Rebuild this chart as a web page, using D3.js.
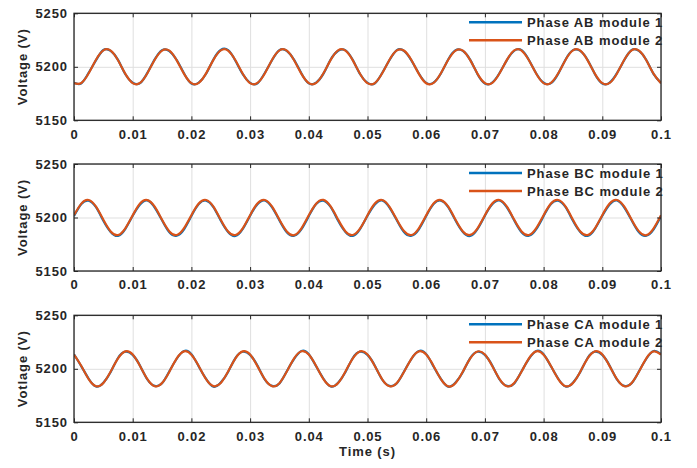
<!DOCTYPE html>
<html>
<head>
<meta charset="utf-8">
<script src="https://cdn.jsdelivr.net/npm/d3@7"></script>
<style>
  html, body { margin: 0; padding: 0; background: #ffffff; }
  svg { display: block; }
  text { font-family: "Liberation Sans", Arial, Helvetica, sans-serif; font-weight: bold; fill: #262626; }
</style>
</head>
<body>
<svg id="chart" width="697" height="468"></svg>
<script>
// ---------- data ----------
const time = [
  0, 0.00125, 0.0025, 0.00375, 0.005, 0.00625, 0.0075, 0.00875,
  0.01, 0.01125, 0.0125, 0.01375, 0.015, 0.01625, 0.0175, 0.01875,
  0.02, 0.02125, 0.0225, 0.02375, 0.025, 0.02625, 0.0275, 0.02875,
  0.03, 0.03125, 0.0325, 0.03375, 0.035, 0.03625, 0.0375, 0.03875,
  0.04, 0.04125, 0.0425, 0.04375, 0.045, 0.04625, 0.0475, 0.04875,
  0.05, 0.05125, 0.0525, 0.05375, 0.055, 0.05625, 0.0575, 0.05875,
  0.06, 0.06125, 0.0625, 0.06375, 0.065, 0.06625, 0.0675, 0.06875,
  0.07, 0.07125, 0.0725, 0.07375, 0.075, 0.07625, 0.0775, 0.07875,
  0.08, 0.08125, 0.0825, 0.08375, 0.085, 0.08625, 0.0875, 0.08875,
  0.09, 0.09125, 0.0925, 0.09375, 0.095, 0.09625, 0.0975, 0.09875,
  0.1
];

const abModule1 = [
  5185.0, 5184.6, 5194.4, 5206.2, 5215.7, 5214.8, 5206.5, 5193.0,
  5185.1, 5184.7, 5194.3, 5206.9, 5215.6, 5214.7, 5206.4, 5193.8,
  5184.4, 5185.3, 5193.5, 5206.9, 5215.7, 5215.5, 5205.7, 5193.1,
  5185.0, 5184.6, 5194.2, 5206.3, 5215.6, 5214.8, 5206.5, 5193.8,
  5184.5, 5185.2, 5193.6, 5207.0, 5215.0, 5215.4, 5206.3, 5193.0,
  5185.0, 5184.5, 5194.2, 5206.3, 5215.6, 5214.7, 5205.8, 5193.7,
  5184.9, 5185.2, 5193.7, 5206.9, 5215.5, 5214.8, 5206.5, 5193.1,
  5184.4, 5185.2, 5194.2, 5206.2, 5215.0, 5215.5, 5206.4, 5193.8,
  5185.1, 5184.7, 5193.6, 5206.9, 5215.6, 5214.8, 5206.3, 5193.1,
  5184.4, 5185.2, 5194.1, 5206.3, 5215.7, 5214.8, 5206.4, 5193.1,
  5185.0
];
const abModule2 = [
  5184.7, 5184.9, 5193.9, 5206.6, 5215.3, 5215.1, 5206.1, 5193.4,
  5184.8, 5184.9, 5194.0, 5206.6, 5215.2, 5215.1, 5206.0, 5193.4,
  5184.7, 5185.0, 5193.9, 5206.5, 5215.3, 5215.2, 5206.1, 5193.5,
  5184.7, 5184.9, 5193.8, 5206.6, 5215.3, 5215.1, 5206.1, 5193.4,
  5184.8, 5184.9, 5193.9, 5206.7, 5215.4, 5215.1, 5206.0, 5193.3,
  5184.7, 5184.8, 5193.9, 5206.6, 5215.3, 5215.0, 5206.1, 5193.4,
  5184.6, 5184.9, 5194.0, 5206.6, 5215.2, 5215.1, 5206.2, 5193.4,
  5184.7, 5184.9, 5193.9, 5206.5, 5215.3, 5215.2, 5206.1, 5193.5,
  5184.8, 5185.0, 5193.9, 5206.6, 5215.3, 5215.1, 5206.0, 5193.4,
  5184.7, 5184.9, 5193.8, 5206.6, 5215.4, 5215.1, 5206.1, 5193.4,
  5184.7
];

const bcModule1 = [
  5201.3, 5212.6, 5215.7, 5209.6, 5197.0, 5186.5, 5182.8, 5189.4,
  5201.6, 5212.2, 5216.0, 5209.3, 5197.4, 5186.1, 5183.0, 5189.0,
  5201.4, 5212.5, 5215.8, 5209.7, 5197.1, 5186.4, 5182.7, 5189.3,
  5201.7, 5212.3, 5215.9, 5209.4, 5197.3, 5186.2, 5182.9, 5189.1,
  5201.3, 5212.6, 5215.7, 5209.6, 5197.0, 5186.5, 5182.8, 5189.4,
  5201.6, 5212.2, 5216.0, 5209.3, 5197.4, 5186.1, 5183.0, 5189.0,
  5201.4, 5212.5, 5215.8, 5209.7, 5197.1, 5186.4, 5182.7, 5189.3,
  5201.7, 5212.3, 5215.9, 5209.4, 5197.3, 5186.2, 5182.9, 5189.1,
  5201.3, 5212.6, 5215.7, 5209.6, 5197.0, 5186.5, 5182.8, 5189.4,
  5201.6, 5212.2, 5216.0, 5209.3, 5197.4, 5186.1, 5183.0, 5189.0,
  5201.4
];
const bcModule2 = [
  5202.1, 5213.0, 5216.4, 5210.1, 5197.9, 5187.0, 5183.6, 5189.9,
  5202.0, 5213.1, 5216.3, 5210.1, 5197.8, 5187.0, 5183.6, 5190.0,
  5202.1, 5213.0, 5216.4, 5210.2, 5197.9, 5186.9, 5183.6, 5189.9,
  5202.2, 5213.0, 5216.4, 5210.1, 5197.9, 5187.0, 5183.5, 5189.9,
  5202.1, 5212.9, 5216.5, 5210.1, 5198.0, 5187.0, 5183.6, 5189.8,
  5202.1, 5213.0, 5216.4, 5210.0, 5197.9, 5187.1, 5183.6, 5189.9,
  5202.0, 5213.0, 5216.3, 5210.1, 5197.9, 5187.0, 5183.7, 5189.9,
  5202.1, 5213.1, 5216.4, 5210.1, 5197.8, 5187.0, 5183.6, 5190.0,
  5202.1, 5213.0, 5216.4, 5210.2, 5197.9, 5186.9, 5183.6, 5189.9,
  5202.2, 5213.0, 5216.4, 5210.1, 5197.9, 5187.0, 5183.5, 5189.9,
  5202.1
];

const caModule1 = [
  5213.6, 5202.3, 5190.7, 5183.4, 5187.0, 5197.0, 5210.1, 5216.0,
  5213.0, 5202.9, 5190.0, 5184.0, 5186.4, 5197.7, 5209.4, 5216.6,
  5213.7, 5202.2, 5190.6, 5183.3, 5187.1, 5197.1, 5210.0, 5215.9,
  5213.0, 5203.0, 5190.0, 5184.0, 5186.3, 5197.8, 5209.3, 5216.7,
  5213.6, 5202.3, 5190.7, 5183.4, 5187.0, 5197.0, 5210.1, 5216.0,
  5213.0, 5202.9, 5190.0, 5184.0, 5186.4, 5197.7, 5209.4, 5216.6,
  5213.7, 5202.2, 5190.6, 5183.3, 5187.1, 5197.1, 5210.0, 5215.9,
  5213.0, 5203.0, 5190.0, 5184.0, 5186.3, 5197.8, 5209.3, 5216.7,
  5213.6, 5202.3, 5190.7, 5183.4, 5187.0, 5197.0, 5210.1, 5216.0,
  5213.0, 5202.9, 5190.0, 5184.0, 5186.4, 5197.7, 5209.4, 5216.6,
  5213.6
];
const caModule2 = [
  5213.3, 5202.6, 5190.3, 5183.7, 5186.7, 5197.4, 5209.7, 5216.3,
  5213.3, 5202.6, 5190.4, 5183.7, 5186.7, 5197.3, 5209.7, 5216.3,
  5213.2, 5202.6, 5190.3, 5183.8, 5186.7, 5197.4, 5209.8, 5216.3,
  5213.3, 5202.5, 5190.3, 5183.7, 5186.6, 5197.4, 5209.7, 5216.4,
  5213.3, 5202.6, 5190.3, 5183.7, 5186.7, 5197.5, 5209.7, 5216.3,
  5213.4, 5202.6, 5190.2, 5183.7, 5186.7, 5197.4, 5209.6, 5216.3,
  5213.3, 5202.7, 5190.3, 5183.6, 5186.7, 5197.4, 5209.7, 5216.2,
  5213.3, 5202.6, 5190.3, 5183.7, 5186.8, 5197.4, 5209.7, 5216.3,
  5213.2, 5202.6, 5190.4, 5183.7, 5186.7, 5197.3, 5209.7, 5216.3,
  5213.3, 5202.5, 5190.3, 5183.7, 5186.7, 5197.4, 5209.8, 5216.3,
  5213.3
];

const xTickValues = [0, 0.01, 0.02, 0.03, 0.04, 0.05, 0.06, 0.07, 0.08, 0.09, 0.1];
const xTickLabels = ["0", "0.01", "0.02", "0.03", "0.04", "0.05", "0.06", "0.07", "0.08", "0.09", "0.1"];
const yTickValues = [5150, 5200, 5250];
const yTickLabels = ["5150", "5200", "5250"];
const yLabels = ["Voltage (V)", "Voltage (V)", "Votlage (V)"];
const xLabel = "Time (s)";
const seriesNames = [
  ["Phase AB module 1", "Phase AB module 2"],
  ["Phase BC module 1", "Phase BC module 2"],
  ["Phase CA module 1", "Phase CA module 2"]
];
const panelData = [
  [abModule1, abModule2],
  [bcModule1, bcModule2],
  [caModule1, caModule2]
];
const colors = ["#0072BD", "#D95319"];

// ---------- layout ----------
const svg = d3.select("#chart");
const left = 74, right = 661;
const panelTops = [13.3, 164, 315.3];
const panelH = 107;
const W = right - left;

const x = d3.scaleLinear().domain([0, 0.1]).range([0, W]);
const y = d3.scaleLinear().domain([5150, 5250]).range([panelH, 0]);

const line = d3.line()
  .x((d, i) => x(time[i]))
  .y(d => y(d))
  .curve(d3.curveNatural);

const fontSize = "13px";
const ls = "0.9px";

panelData.forEach((series, p) => {
  const g = svg.append("g").attr("transform", `translate(${left},${panelTops[p]})`);

  const clipId = "clip" + p;
  g.append("clipPath").attr("id", clipId)
    .append("rect").attr("x", 0).attr("y", 0).attr("width", W).attr("height", panelH);

  // grid
  const gx = g.append("g")
    .attr("transform", `translate(0,${panelH})`)
    .call(d3.axisBottom(x).tickValues(xTickValues).tickSize(-panelH).tickFormat(""));
  const gy = g.append("g")
    .call(d3.axisLeft(y).tickValues(yTickValues).tickSize(-W).tickFormat(""));
  [gx, gy].forEach(gg => {
    gg.select(".domain").remove();
    gg.selectAll("line").attr("stroke", "#dfdfdf").attr("stroke-width", 1);
  });

  // series
  const lg = g.append("g").attr("clip-path", `url(#${clipId})`);
  series.forEach((vals, s) => {
    lg.append("path")
      .datum(vals)
      .attr("d", line)
      .attr("fill", "none")
      .attr("stroke", colors[s])
      .attr("stroke-width", 2.2);
  });

  // axes with inward ticks
  const ax = g.append("g").attr("transform", `translate(0,${panelH})`)
    .call(d3.axisBottom(x).tickValues(xTickValues).tickSize(-4).tickPadding(9)
      .tickFormat((d, i) => xTickLabels[i]));
  const ay = g.append("g")
    .call(d3.axisLeft(y).tickValues(yTickValues).tickSize(-4).tickPadding(6)
      .tickFormat((d, i) => yTickLabels[i]));
  const at = g.append("g")
    .call(d3.axisTop(x).tickValues(xTickValues).tickSize(-4).tickFormat(""));
  const ar = g.append("g").attr("transform", `translate(${W},0)`)
    .call(d3.axisRight(y).tickValues(yTickValues).tickSize(-4).tickFormat(""));
  [ax, ay, at, ar].forEach(a => {
    a.select(".domain").remove();
    a.selectAll("line").attr("stroke", "#262626").attr("stroke-width", 1);
    a.selectAll("text")
      .style("font-family", '"Liberation Sans", Arial, sans-serif')
      .style("font-weight", "bold")
      .style("font-size", fontSize)
      .style("letter-spacing", ls)
      .attr("fill", "#262626");
  });

  // box
  g.append("rect")
    .attr("x", 0).attr("y", 0).attr("width", W).attr("height", panelH)
    .attr("fill", "none").attr("stroke", "#262626").attr("stroke-width", 1.3);

  // y label
  svg.append("text")
    .attr("transform", `translate(27,${panelTops[p] + panelH / 2}) rotate(-90)`)
    .attr("text-anchor", "middle")
    .style("font-size", fontSize)
    .style("letter-spacing", ls)
    .text(yLabels[p]);

  // legend
  const legY = [9, 27];
  seriesNames[p].forEach((name, s) => {
    const ly = panelTops[p] + legY[s];
    svg.append("line")
      .attr("x1", 469).attr("x2", 522)
      .attr("y1", ly).attr("y2", ly)
      .attr("stroke", colors[s]).attr("stroke-width", 2.5);
    svg.append("text")
      .attr("x", 527).attr("y", ly)
      .attr("dy", "0.35em")
      .style("font-size", fontSize)
      .style("letter-spacing", ls)
      .text(name);
  });
});

// x label
svg.append("text")
  .attr("x", left + W / 2).attr("y", 456)
  .attr("text-anchor", "middle")
  .style("font-size", fontSize)
  .style("letter-spacing", ls)
  .text(xLabel);
</script>
</body>
</html>
